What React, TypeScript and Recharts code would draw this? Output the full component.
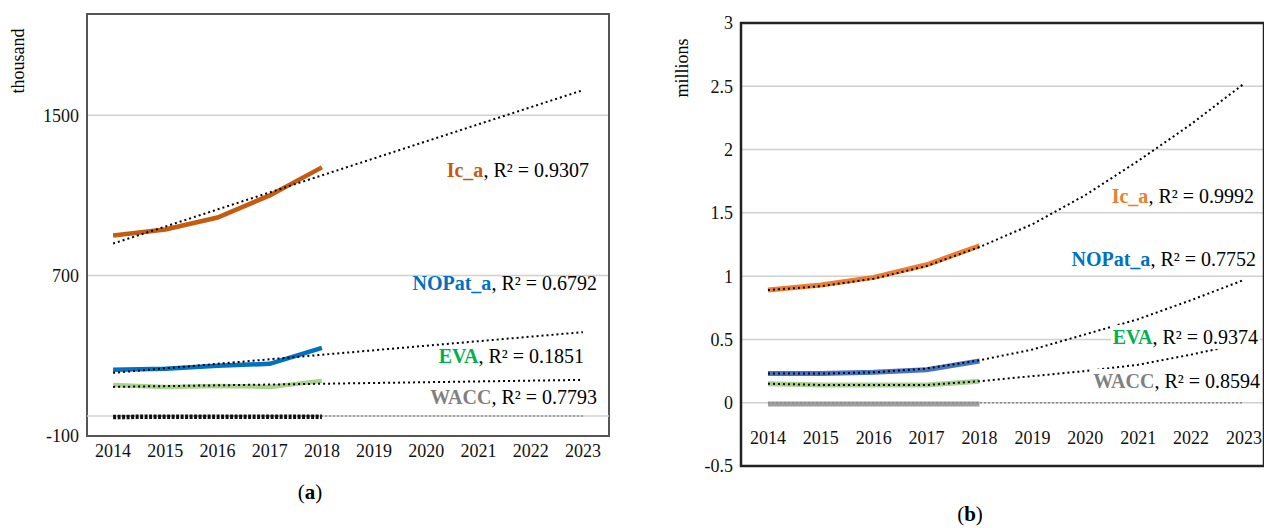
import React from 'react'
import { LineChart, Line, XAxis, YAxis, CartesianGrid, ReferenceArea, ReferenceLine } from 'recharts'

const years = [2014, 2015, 2016, 2017, 2018, 2019, 2020, 2021, 2022, 2023]

// (a) thousand
const icA = [900, 930, 990, 1100, 1240]
const icATrend = [860, null, null, null, null, null, null, null, null, 1625]
const nopatA = [230, 235, 250, 260, 340]
const nopatATrend = [215, null, null, null, null, null, null, null, null, 418]
const evaA = [155, 145, 150, 145, 175]
const evaATrend = [145, null, null, null, null, null, null, null, null, 180]
const waccA = [-5, -4, -4, -4, -4]
const waccATrend = [0, null, null, null, null, null, null, null, null, 0]

// (b) millions
const icB = [0.89, 0.93, 0.99, 1.09, 1.24]
const icBTrend = [0.89, 0.92, 0.98, 1.08, 1.23, 1.41, 1.64, 1.91, 2.2, 2.52]
const nopatB = [0.23, 0.23, 0.24, 0.26, 0.33]
const nopatBTrend = [0.23, 0.23, 0.24, 0.27, 0.335, 0.42, 0.54, 0.66, 0.81, 0.97]
const evaB = [0.15, 0.14, 0.14, 0.14, 0.17]
const evaBTrend = [0.15, 0.14, 0.14, 0.14, 0.17, 0.21, 0.25, 0.3, 0.38, 0.47]
const waccB = [-0.01, -0.01, -0.01, -0.01, -0.01]
const waccBTrend = [0, 0, 0, 0, 0, 0, 0, 0, 0, 0]

const ticksA = [-100, 700, 1500]
const ticksB = [-0.5, 0, 0.5, 1, 1.5, 2, 2.5, 3]

const rowsA = years.map((year, i) => ({
  year,
  ic: icA[i], icT: icATrend[i], nopat: nopatA[i], nopatT: nopatATrend[i],
  eva: evaA[i], evaT: evaATrend[i], wacc: waccA[i], waccT: waccATrend[i],
}))
const rowsB = years.map((year, i) => ({
  year,
  ic: icB[i], icT: icBTrend[i], nopat: nopatB[i], nopatT: nopatBTrend[i],
  eva: evaB[i], evaT: evaBTrend[i], wacc: waccB[i], waccT: waccBTrend[i],
}))

const font = '"Times New Roman", Times, serif'
const tickStyle = { fontFamily: font, fontSize: 18, fill: '#111' }

const Label = ({ right, top, name, color, r2, bg }: any) => (
  <div style={{ position: 'absolute', right: 1264 - right, top: top - 12, fontFamily: font, fontSize: 20,
    whiteSpace: 'nowrap', lineHeight: '24px', background: bg ? '#fff' : 'transparent', padding: '0 2px' }}>
    <span style={{ color, fontWeight: 'bold' }}>{name}</span>, R² = {r2}
  </div>
)

const lowTick = ({ x, y, payload }: any) => (
  <text x={x} y={y - 30} textAnchor="middle" style={tickStyle} fill="#111">{payload.value}</text>
)

export default function App() {
  return (
    <div style={{ position: 'absolute', left: 0, top: 0, width: 1264, height: 528, background: '#fff', fontFamily: font }}>
      <div style={{ position: 'absolute', left: 0, top: 0 }}>
        <LineChart width={620} height={470} data={rowsA} margin={{ top: 14, right: 11, left: 17, bottom: 4 }}>
          <CartesianGrid vertical={false} stroke="#d0d0d0" strokeWidth={1.5} />
          <XAxis dataKey="year" type="number" domain={[2013.5, 2023.5]} ticks={years} tickLine={false}
            axisLine={false} tick={tickStyle} height={30} tickMargin={2} />
          <YAxis type="number" domain={[-100, 2005]} ticks={ticksA} tickLine={false} axisLine={false}
            tick={tickStyle} width={70} allowDataOverflow />
          <ReferenceLine y={0} stroke="#d0d0d0" strokeWidth={1.5} />
          <ReferenceArea x1={2013.5} x2={2023.5} y1={-100} y2={2005} fill="none" stroke="#555" strokeWidth={2} />
          <Line dataKey="ic" stroke="#C55A11" strokeWidth={4.5} dot={false} isAnimationActive={false} />
          <Line dataKey="icT" stroke="#000" strokeWidth={2} strokeDasharray="2 3" dot={false} connectNulls isAnimationActive={false} />
          <Line dataKey="nopat" stroke="#0070C0" strokeWidth={4.5} dot={false} isAnimationActive={false} />
          <Line dataKey="nopatT" stroke="#000" strokeWidth={2} strokeDasharray="2 3" dot={false} connectNulls isAnimationActive={false} />
          <Line dataKey="eva" stroke="#A9D18E" strokeWidth={4.5} dot={false} isAnimationActive={false} />
          <Line dataKey="evaT" stroke="#000" strokeWidth={2} strokeDasharray="2 3" dot={false} connectNulls isAnimationActive={false} />
          <Line dataKey="waccT" stroke="#888" strokeWidth={1.5} strokeDasharray="2 2" dot={false} connectNulls isAnimationActive={false} />
          <Line dataKey="wacc" stroke="#111" strokeWidth={4.5} strokeDasharray="3 1.5" dot={false} isAnimationActive={false} />
        </LineChart>
      </div>
      <div style={{ position: 'absolute', left: 640, top: 0 }}>
        <LineChart width={624} height={500} data={rowsB} margin={{ top: 23, right: 0, left: 31, bottom: 4 }}>
          <CartesianGrid vertical={false} stroke="#d0d0d0" strokeWidth={1.5} />
          <XAxis dataKey="year" type="number" domain={[2013.49, 2023.38]} ticks={years} tickLine={false}
            axisLine={false} tick={lowTick} height={30} />
          <YAxis type="number" domain={[-0.5, 3]} ticks={ticksB} tickLine={false} axisLine={false}
            tick={tickStyle} width={70} />
          <ReferenceArea x1={2013.49} x2={2023.38} y1={-0.5} y2={3} fill="none" stroke="#222" strokeWidth={2.5} />
          <Line dataKey="ic" stroke="#ED7D31" strokeWidth={5} dot={false} isAnimationActive={false} />
          <Line dataKey="icT" stroke="#000" strokeWidth={2} strokeDasharray="2 3" dot={false} isAnimationActive={false} />
          <Line dataKey="nopat" stroke="#4472C4" strokeWidth={5} dot={false} isAnimationActive={false} />
          <Line dataKey="nopatT" stroke="#000" strokeWidth={2} strokeDasharray="2 3" dot={false} isAnimationActive={false} />
          <Line dataKey="eva" stroke="#A9D18E" strokeWidth={5} dot={false} isAnimationActive={false} />
          <Line dataKey="evaT" stroke="#000" strokeWidth={2} strokeDasharray="2 3" dot={false} isAnimationActive={false} />
          <Line dataKey="wacc" stroke="#A0A0A0" strokeWidth={5} dot={false} isAnimationActive={false} />
          <Line dataKey="waccT" stroke="#888" strokeWidth={1.5} strokeDasharray="2 2" dot={false} isAnimationActive={false} />
        </LineChart>
      </div>
      <div style={{ position: 'absolute', left: 18 - 40, top: 61 - 10, width: 80, textAlign: 'center', transform: 'rotate(-90deg)', fontSize: 18, lineHeight: '20px' }}>thousand</div>
      <div style={{ position: 'absolute', left: 682 - 40, top: 68 - 10, width: 80, textAlign: 'center', transform: 'rotate(-90deg)', fontSize: 18, lineHeight: '20px' }}>millions</div>
      <Label right={591} top={170} name="Ic_a" color="#C55A11" r2="0.9307" />
      <Label right={599} top={283} name="NOPat_a" color="#0070C0" r2="0.6792" />
      <Label right={586} top={356} name="EVA" color="#00B050" r2="0.1851" />
      <Label right={599} top={397} name="WACC" color="#808080" r2="0.7793" />
      <Label right={1256} top={196} name="Ic_a" color="#ED7D31" r2="0.9992" bg />
      <Label right={1258} top={259} name="NOPat_a" color="#0070C0" r2="0.7752" bg />
      <Label right={1260} top={337} name="EVA" color="#00B050" r2="0.9374" bg />
      <Label right={1262} top={381} name="WACC" color="#808080" r2="0.8594" bg />
      <div style={{ position: 'absolute', left: 290, top: 480, width: 40, textAlign: 'center', fontSize: 21 }}>(<b>a</b>)</div>
      <div style={{ position: 'absolute', left: 950, top: 502, width: 40, textAlign: 'center', fontSize: 21 }}>(<b>b</b>)</div>
    </div>
  )
}
